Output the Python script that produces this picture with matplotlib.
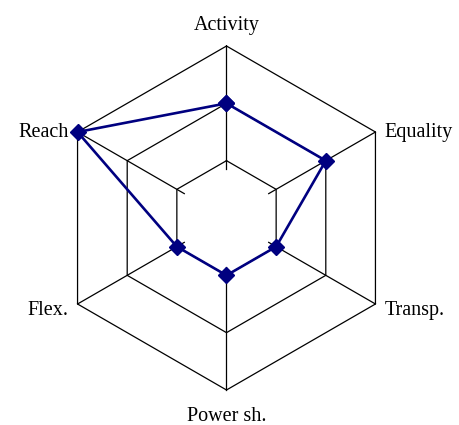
import numpy as np
import matplotlib
matplotlib.use("Agg")
import matplotlib.pyplot as plt

# Radar values, clockwise from the top
labels = ["Activity", "Equality", "Transp.", "Power sh.", "Flex.", "Reach"]
scores = [2, 2, 1, 1, 1, 3]
rings = [1, 2, 3]
spoke_start = 0.85

plt.rcParams['font.family'] = ['Liberation Serif', 'DejaVu Serif']

n = len(labels)
angles = np.pi / 2 - np.arange(n) * 2 * np.pi / n

fig = plt.figure(figsize=(4.59, 4.25), dpi=100)
ax = fig.add_axes([0, 0, 1, 1])
ax.axis('off')

# pixel layout: centre at (226.5, 218) from top-left, 57.33 px per unit
scale = 57.33
ax.set_xlim(-226.5 / scale, (459 - 226.5) / scale)
ax.set_ylim(-(425 - 218) / scale, 218 / scale)

# grid rings
for r in rings:
    xs = r * np.cos(np.append(angles, angles[0]))
    ys = r * np.sin(np.append(angles, angles[0]))
    ax.plot(xs, ys, color='black', lw=0.9, zorder=1)

# spokes
rmax = max(rings)
for a in angles:
    ax.plot([spoke_start * np.cos(a), rmax * np.cos(a)],
            [spoke_start * np.sin(a), rmax * np.sin(a)],
            color='black', lw=0.9, zorder=1)

# data series
vals = np.array(scores + scores[:1], dtype=float)
ang = np.append(angles, angles[0])
ax.plot(vals * np.cos(ang), vals * np.sin(ang), color='#000080', lw=1.9,
        marker='D', ms=8.5, mec='#000080', zorder=3)

# axis labels (baseline placement)
fs = 14.5
for lab, a in zip(labels, angles):
    x = rmax * np.cos(a)
    y = rmax * np.sin(a)
    c = np.cos(a)
    s = np.sin(a)
    if abs(c) < 1e-6:
        dy = 0.284 if s > 0 else -0.535
        ax.text(x, y + dy, lab, ha='center', va='baseline', fontsize=fs)
    else:
        ha = 'left' if c > 0 else 'right'
        dx = 0.16 if c > 0 else -0.16
        dy = -0.087 if s > 0 else -0.19
        ax.text(x + dx, y + dy, lab, ha=ha, va='baseline', fontsize=fs)

fig.savefig("out.png", dpi=100)
